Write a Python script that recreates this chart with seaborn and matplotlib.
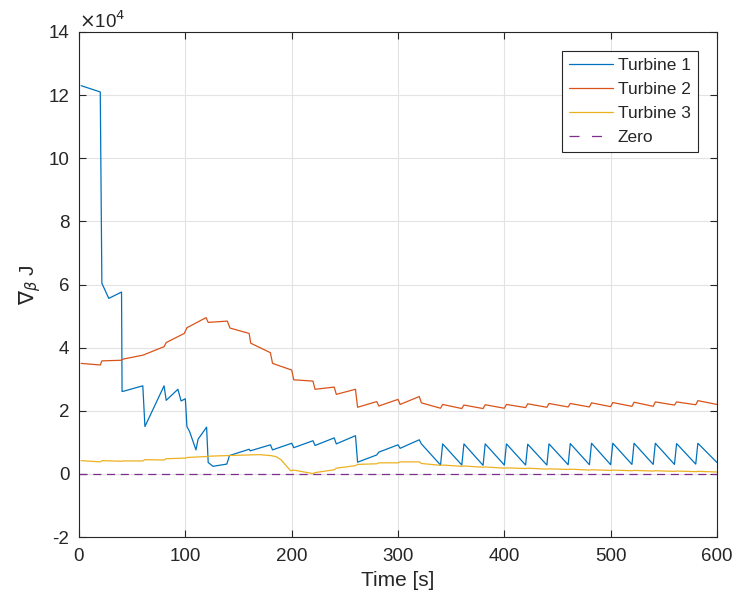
import matplotlib
matplotlib.use("Agg")
import matplotlib.pyplot as plt
import seaborn as sns
import pandas as pd

# ---------------- data (values in units of 1e4) ----------------
t_turbine1 = [2, 20, 21.5, 28, 40, 40.5, 42, 60, 62, 80, 82, 93, 96, 100, 101.5, 104,
              110, 112, 120, 121.5, 126, 139, 141.5, 160, 161, 180, 182, 200, 202,
              220, 222, 240, 242, 260, 262, 280, 282, 300, 302, 320, 322,
              340, 342, 360, 362, 380, 382, 400, 402, 420, 422, 440, 442, 460, 462,
              480, 482, 500, 502, 520, 522, 540, 542, 560, 562, 580, 582, 600]
v_turbine1 = [12.3, 12.1, 6.04, 5.56, 5.76, 2.61, 2.62, 2.79, 1.50, 2.79, 2.33, 2.68, 2.31, 2.38, 1.50, 1.34,
              0.76, 1.10, 1.48, 0.36, 0.24, 0.31, 0.58, 0.78, 0.73, 0.92, 0.76, 0.97, 0.83,
              1.05, 0.90, 1.14, 0.95, 1.21, 0.37, 0.60, 0.69, 0.92, 0.81, 1.08, 0.95,
              0.28, 0.95, 0.28, 0.95, 0.27, 0.95, 0.28, 0.95, 0.28, 0.94, 0.28, 0.95, 0.29, 0.96,
              0.29, 0.97, 0.29, 0.97, 0.30, 0.97, 0.30, 0.97, 0.30, 0.96, 0.31, 0.97, 0.36]

t_turbine2 = [2, 20, 21.5, 40, 42, 60, 80, 82, 99, 101.5, 119.5, 121.5, 139.5, 142, 160, 161.5,
              180, 182, 200, 202, 220, 222, 240, 242, 260, 262, 280, 282, 300, 302, 320, 322,
              340, 342, 360, 362, 380, 382, 400, 402, 420, 422, 440, 442, 460, 462,
              480, 482, 500, 502, 520, 522, 540, 542, 560, 562, 580, 582, 600]
v_turbine2 = [3.50, 3.45, 3.58, 3.60, 3.64, 3.76, 4.03, 4.16, 4.45, 4.63, 4.95, 4.80, 4.84, 4.62, 4.45, 4.14,
              3.84, 3.50, 3.29, 2.98, 2.94, 2.68, 2.75, 2.52, 2.68, 2.11, 2.29, 2.15, 2.36, 2.20, 2.45, 2.25,
              2.08, 2.20, 2.07, 2.18, 2.07, 2.19, 2.08, 2.20, 2.10, 2.22, 2.11, 2.23, 2.12, 2.23,
              2.12, 2.25, 2.13, 2.26, 2.14, 2.27, 2.14, 2.28, 2.18, 2.28, 2.19, 2.32, 2.20]

t_turbine3 = [2, 20, 22, 40, 42, 60, 62, 80, 82, 100, 102, 120, 122, 140, 160, 170, 180, 185,
              190, 195, 199, 202, 210, 220, 222, 240, 242, 260, 262, 280, 282, 300, 302, 320, 322,
              340, 342, 360, 362, 380, 382, 400, 402, 420, 422, 440, 442, 460, 462,
              480, 482, 500, 502, 520, 522, 540, 542, 560, 562, 580, 582, 600]
v_turbine3 = [0.42, 0.38, 0.42, 0.40, 0.41, 0.41, 0.45, 0.44, 0.48, 0.50, 0.52, 0.55, 0.56, 0.58, 0.60, 0.61, 0.58, 0.55,
              0.45, 0.25, 0.10, 0.12, 0.07, 0.01, 0.04, 0.13, 0.18, 0.26, 0.30, 0.32, 0.35, 0.35, 0.38, 0.38, 0.33,
              0.27, 0.28, 0.24, 0.25, 0.21, 0.22, 0.18, 0.19, 0.17, 0.18, 0.15, 0.16, 0.14, 0.15,
              0.12, 0.13, 0.11, 0.12, 0.10, 0.11, 0.09, 0.10, 0.08, 0.09, 0.07, 0.08, 0.06]

t_zero = [0, 600]
v_zero = [0, 0]

series_names = ["Turbine 1", "Turbine 2", "Turbine 3", "Zero"]
x_ticks = [0, 100, 200, 300, 400, 500, 600]
y_ticks = [-2, 0, 2, 4, 6, 8, 10, 12, 14]

# ---------------- style ----------------
sns.set_theme(style="whitegrid")
plt.rcParams["font.family"] = ["Liberation Sans", "DejaVu Sans"]
plt.rcParams["mathtext.fontset"] = "dejavusans"

colors = ["#0072BD", "#D95319", "#EDB120", "#7E2F8E"]
ink = "#262626"

fig = plt.figure(figsize=(7.33, 6.01), dpi=100)
ax = fig.add_axes([79 / 733, 1 - 537 / 601, (717 - 79) / 733, (537 - 32) / 601])
ax.set_facecolor("white")

dfs = [
    pd.DataFrame({"t": t_turbine1, "v": v_turbine1}),
    pd.DataFrame({"t": t_turbine2, "v": v_turbine2}),
    pd.DataFrame({"t": t_turbine3, "v": v_turbine3}),
]
for df, c, name in zip(dfs, colors[:3], series_names[:3]):
    sns.lineplot(data=df, x="t", y="v", ax=ax, color=c, lw=0.9, label=name,
                 estimator=None, sort=False)

dz = pd.DataFrame({"t": t_zero, "v": v_zero})
sns.lineplot(data=dz, x="t", y="v", ax=ax, color=colors[3], lw=0.9, label=series_names[3],
             estimator=None)
ax.lines[-1].set_dashes((6.5, 4.5))

ax.set_xlim(0, 600)
ax.set_ylim(-2, 14)
ax.set_xticks(x_ticks)
ax.set_yticks(y_ticks)
ax.set_xticklabels([str(v) for v in x_ticks])
ax.set_yticklabels([str(v) for v in y_ticks])

ax.grid(True, color="#e3e3e3", lw=0.8)
for s in ax.spines.values():
    s.set_visible(True)
    s.set_color(ink)
    s.set_linewidth(0.8)
ax.tick_params(direction="in", length=5, width=0.8, colors=ink,
               top=True, right=True, bottom=True, left=True, labelsize=13.5)
ax.tick_params(axis="x", pad=8)
ax.tick_params(axis="y", pad=7)

ax.set_xlabel("Time [s]", fontsize=15, color=ink, labelpad=4)
ax.set_ylabel(r"$\nabla_{\beta}$ J", fontsize=15, color=ink, labelpad=4)
ax.text(0.0, 1.008, r"$\times$10$^{4}$", transform=ax.transAxes, ha="left", va="baseline",
        fontsize=13.5, color=ink)

leg = ax.legend(loc="upper right", bbox_to_anchor=(0.970, 0.962), fontsize=12.5,
                frameon=True, fancybox=False, edgecolor=ink, framealpha=1,
                handlelength=2.5, borderpad=0.4, labelspacing=0.5, handletextpad=0.3,
                borderaxespad=0)
leg.get_frame().set_linewidth(0.8)
leg.get_lines()[3].set_dashes((8, 10))

fig.savefig("out.png", dpi=100)
